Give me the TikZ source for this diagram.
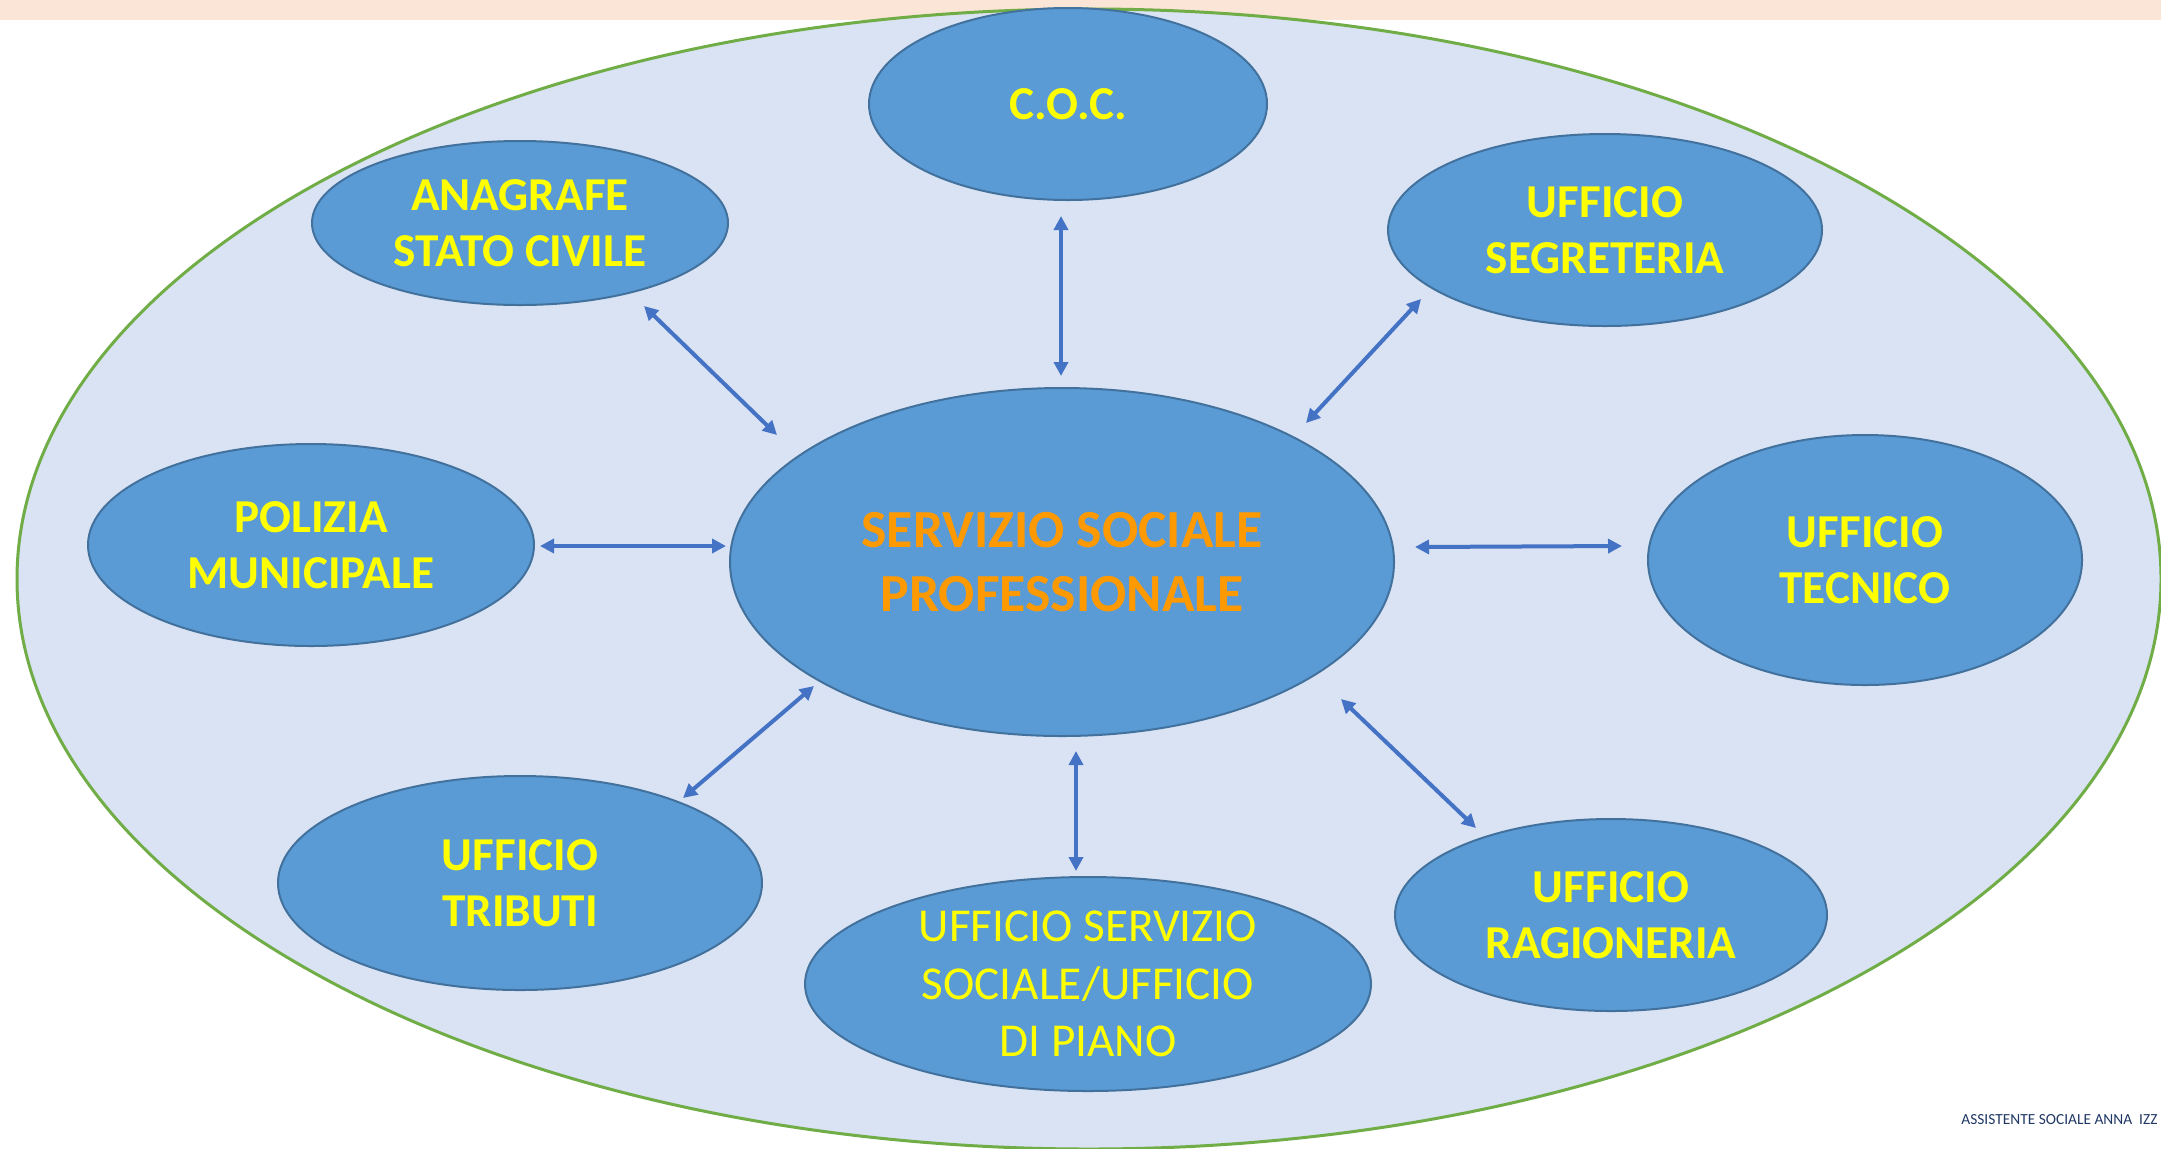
\documentclass[tikz,border=0pt]{standalone}
\usepackage{fontspec}
\setmainfont{Carlito}
\usetikzlibrary{shapes.geometric,arrows.meta}
\definecolor{bandc}{HTML}{FBE5D6}
\definecolor{outerfill}{HTML}{DAE3F3}
\definecolor{outerline}{HTML}{70AD47}
\definecolor{nodefill}{HTML}{5B9BD5}
\definecolor{nodeline}{HTML}{41719C}
\definecolor{arrowc}{HTML}{4472C4}
\definecolor{txtyellow}{HTML}{FFFF00}
\definecolor{txtorange}{HTML}{FF9900}
\definecolor{footc}{HTML}{203864}
\begin{document}
\begin{tikzpicture}[x=0.5pt,y=-0.5pt,
  office/.style={ellipse, draw=nodeline, line width=1pt, fill=nodefill,
    inner sep=0pt, outer sep=0pt, align=center, text=txtyellow,
    font=\fontsize{23.6}{28.2}\selectfont\bfseries},
  link/.style={arrowc, line width=2pt,
    {Triangle[length=7pt,width=7pt]}-{Triangle[length=7pt,width=7pt]}}]
\useasboundingbox (0,0) rectangle (2161,1148);
\clip (0,0) rectangle (2161,1148);
\fill[bandc] (0,0) rectangle (2161,20);
\node[ellipse, draw=outerline, line width=1.5pt, fill=outerfill,
  minimum width=1072pt, minimum height=570pt] (outer) at (1089,579) {};

\node[office, minimum width=199pt, minimum height=96pt] (coc) at (1068,104) {C.O.C.};
\node[office, minimum width=208pt, minimum height=82pt] (ana) at (520,223) {ANAGRAFE\\STATO CIVILE};
\node[office, minimum width=217pt, minimum height=96pt] (seg) at (1605,230) {UFFICIO\\SEGRETERIA};
\node[office, minimum width=223pt, minimum height=101pt] (pol) at (311,545) {POLIZIA\\MUNICIPALE};
\node[office, minimum width=332pt, minimum height=174pt, text=txtorange,
  font=\fontsize{26.8}{32}\selectfont\bfseries] (ssp) at (1062,562) {SERVIZIO SOCIALE\\PROFESSIONALE};
\node[office, minimum width=217pt, minimum height=125pt] (tec) at (1865,560) {UFFICIO\\TECNICO};
\node[office, minimum width=242pt, minimum height=107pt] (tri) at (520,883) {UFFICIO\\TRIBUTI};
\node[office, minimum width=283pt, minimum height=107pt,
  font=\fontsize{23.6}{28.7}\selectfont] (uss) at (1088,984) {UFFICIO SERVIZIO\\SOCIALE/UFFICIO\\DI PIANO};
\node[office, minimum width=216pt, minimum height=96pt] (rag) at (1611,915) {UFFICIO\\RAGIONERIA};

\coordinate (a1s) at (644,306);  \coordinate (a1e) at (777,435);
\coordinate (a2s) at (1061,216); \coordinate (a2e) at (1061,376);
\coordinate (a3s) at (1421,299); \coordinate (a3e) at (1306,423);
\coordinate (a4s) at (540,546);  \coordinate (a4e) at (726,546);
\coordinate (a5s) at (1415,547); \coordinate (a5e) at (1622,546);
\coordinate (a6s) at (814,686);  \coordinate (a6e) at (683,798);
\coordinate (a7s) at (1076,751); \coordinate (a7e) at (1076,871);
\coordinate (a8s) at (1341,699); \coordinate (a8e) at (1476,828);

\draw[link] (a1s) -- (a1e);
\draw[link] (a2s) -- (a2e);
\draw[link] (a3s) -- (a3e);
\draw[link] (a4s) -- (a4e);
\draw[link] (a5s) -- (a5e);
\draw[link] (a6s) -- (a6e);
\draw[link] (a7s) -- (a7e);
\draw[link] (a8s) -- (a8e);

\node[anchor=base west, inner sep=0pt, text=footc,
  font=\fontsize{7.7}{9}\selectfont] (foot) at (1961,1124) {ASSISTENTE SOCIALE ANNA\ \ IZZ};
\end{tikzpicture}
\end{document}
